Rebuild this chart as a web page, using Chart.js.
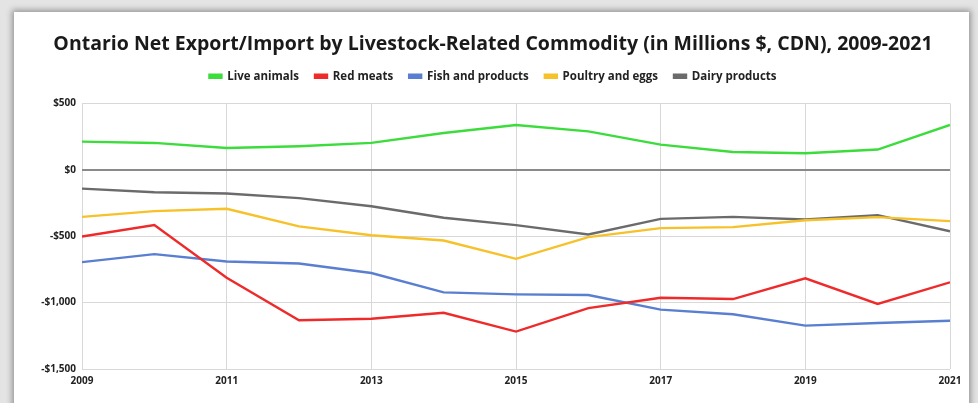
<!DOCTYPE html>
<html>
<head>
<meta charset="utf-8">
<script src="https://cdn.jsdelivr.net/npm/chart.js@4.4.1/dist/chart.umd.min.js"></script>
<style>
  html, body { margin: 0; padding: 0; background: #e9e9e9; }
  #wrap { position: relative; width: 978px; height: 403px; overflow: hidden; background: #e4e4e4; }
  #card { position: absolute; left: 14px; top: 12px; width: 955px; height: 420px; background: #fff;
          box-shadow: 0 0 6px 2px rgba(0,0,0,0.35); }
  #c { position: absolute; left: 0; top: 0; }
</style>
</head>
<body>
<div id="wrap">
  <div id="card"></div>
  <canvas id="c" width="978" height="403"></canvas>
</div>
<script>
// Ontario net export/import by livestock-related commodity, millions of CDN dollars
const years = [2009, 2010, 2011, 2012, 2013, 2014, 2015, 2016, 2017, 2018, 2019, 2020, 2021];
const liveAnimals   = [213, 203, 165, 178, 203, 278, 338, 290, 190, 135, 125, 153, 338];
const redMeats      = [-502, -416, -812, -1133, -1121, -1076, -1218, -1041, -963, -973, -817, -1010, -847];
const fishProducts  = [-695, -635, -690, -705, -777, -923, -938, -943, -1053, -1088, -1173, -1153, -1136];
const poultryEggs   = [-354, -311, -293, -426, -492, -532, -670, -507, -439, -431, -379, -356, -386];
const dairyProducts = [-141, -168, -178, -213, -274, -361, -416, -487, -369, -354, -374, -341, -462];
const yTicks = [500, 0, -500, -1000, -1500];

const seriesNames  = ['Live animals', 'Red meats', 'Fish and products', 'Poultry and eggs', 'Dairy products'];
const seriesValues = [liveAnimals, redMeats, fishProducts, poultryEggs, dairyProducts];
const seriesColors = ['#3ddc3d', '#ee2a2a', '#5a7fd0', '#f7c12a', '#6b6b6b'];

const FONT = '"Open Sans", Lato, sans-serif';

const datasets = seriesNames.map((name, i) => ({
  label: name,
  data: years.map((yr, j) => ({ x: yr, y: seriesValues[i][j] })),
  borderColor: seriesColors[i],
  backgroundColor: seriesColors[i],
  borderWidth: 2.4,
  pointRadius: 0,
  tension: 0,
  fill: false
}));

function money(v) {
  const s = Math.abs(v).toLocaleString('en-US');
  return (v < 0 ? '-$' : '$') + s;
}

new Chart(document.getElementById('c'), {
  type: 'line',
  data: { datasets },
  options: {
    responsive: false,
    animation: false,
    devicePixelRatio: 1,
    layout: { padding: { left: 36, right: 28, top: 0, bottom: 10 } },
    plugins: {
      title: {
        display: true,
        text: 'Ontario Net Export/Import by Livestock-Related Commodity (in Millions $, CDN), 2009-2021',
        color: '#1a1a1a',
        font: { family: FONT, size: 19.5, weight: 'bold', lineHeight: 1.0 },
        padding: { top: 35, bottom: 0 }
      },
      legend: {
        position: 'top',
        labels: {
          color: '#222',
          font: { family: FONT, size: 11.5, weight: 'bold' },
          boxWidth: 12,
          boxHeight: 3,
          padding: 16
        }
      },
      // blank spacer between the legend and the plot
      subtitle: {
        display: true,
        text: ' ',
        weight: 500,
        font: { size: 1, lineHeight: 1 },
        padding: { top: 0, bottom: 10.5 }
      },
      tooltip: { enabled: false }
    },
    scales: {
      x: {
        type: 'linear',
        min: 2009,
        max: 2021,
        ticks: {
          stepSize: 2,
          color: '#222',
          font: { family: FONT, size: 10, weight: 'bold' },
          padding: 6,
          maxRotation: 0,
          callback: v => String(v)
        },
        grid: { color: '#d8d8d8', lineWidth: 1, drawTicks: false },
        border: { display: false }
      },
      y: {
        min: -1500,
        max: 500,
        afterBuildTicks: axis => { axis.ticks = yTicks.map(v => ({ value: v })); },
        afterFit: axis => { axis.width = 46; },
        ticks: {
          color: '#222',
          font: { family: FONT, size: 10, weight: 'bold' },
          padding: 6,
          callback: v => money(v)
        },
        grid: {
          color: ctx => (ctx.tick && ctx.tick.value === 0) ? '#8a8a8a' : '#d8d8d8',
          lineWidth: ctx => (ctx.tick && ctx.tick.value === 0) ? 2 : 1,
          drawTicks: false
        },
        border: { display: false }
      }
    }
  }
});
</script>
</body>
</html>
